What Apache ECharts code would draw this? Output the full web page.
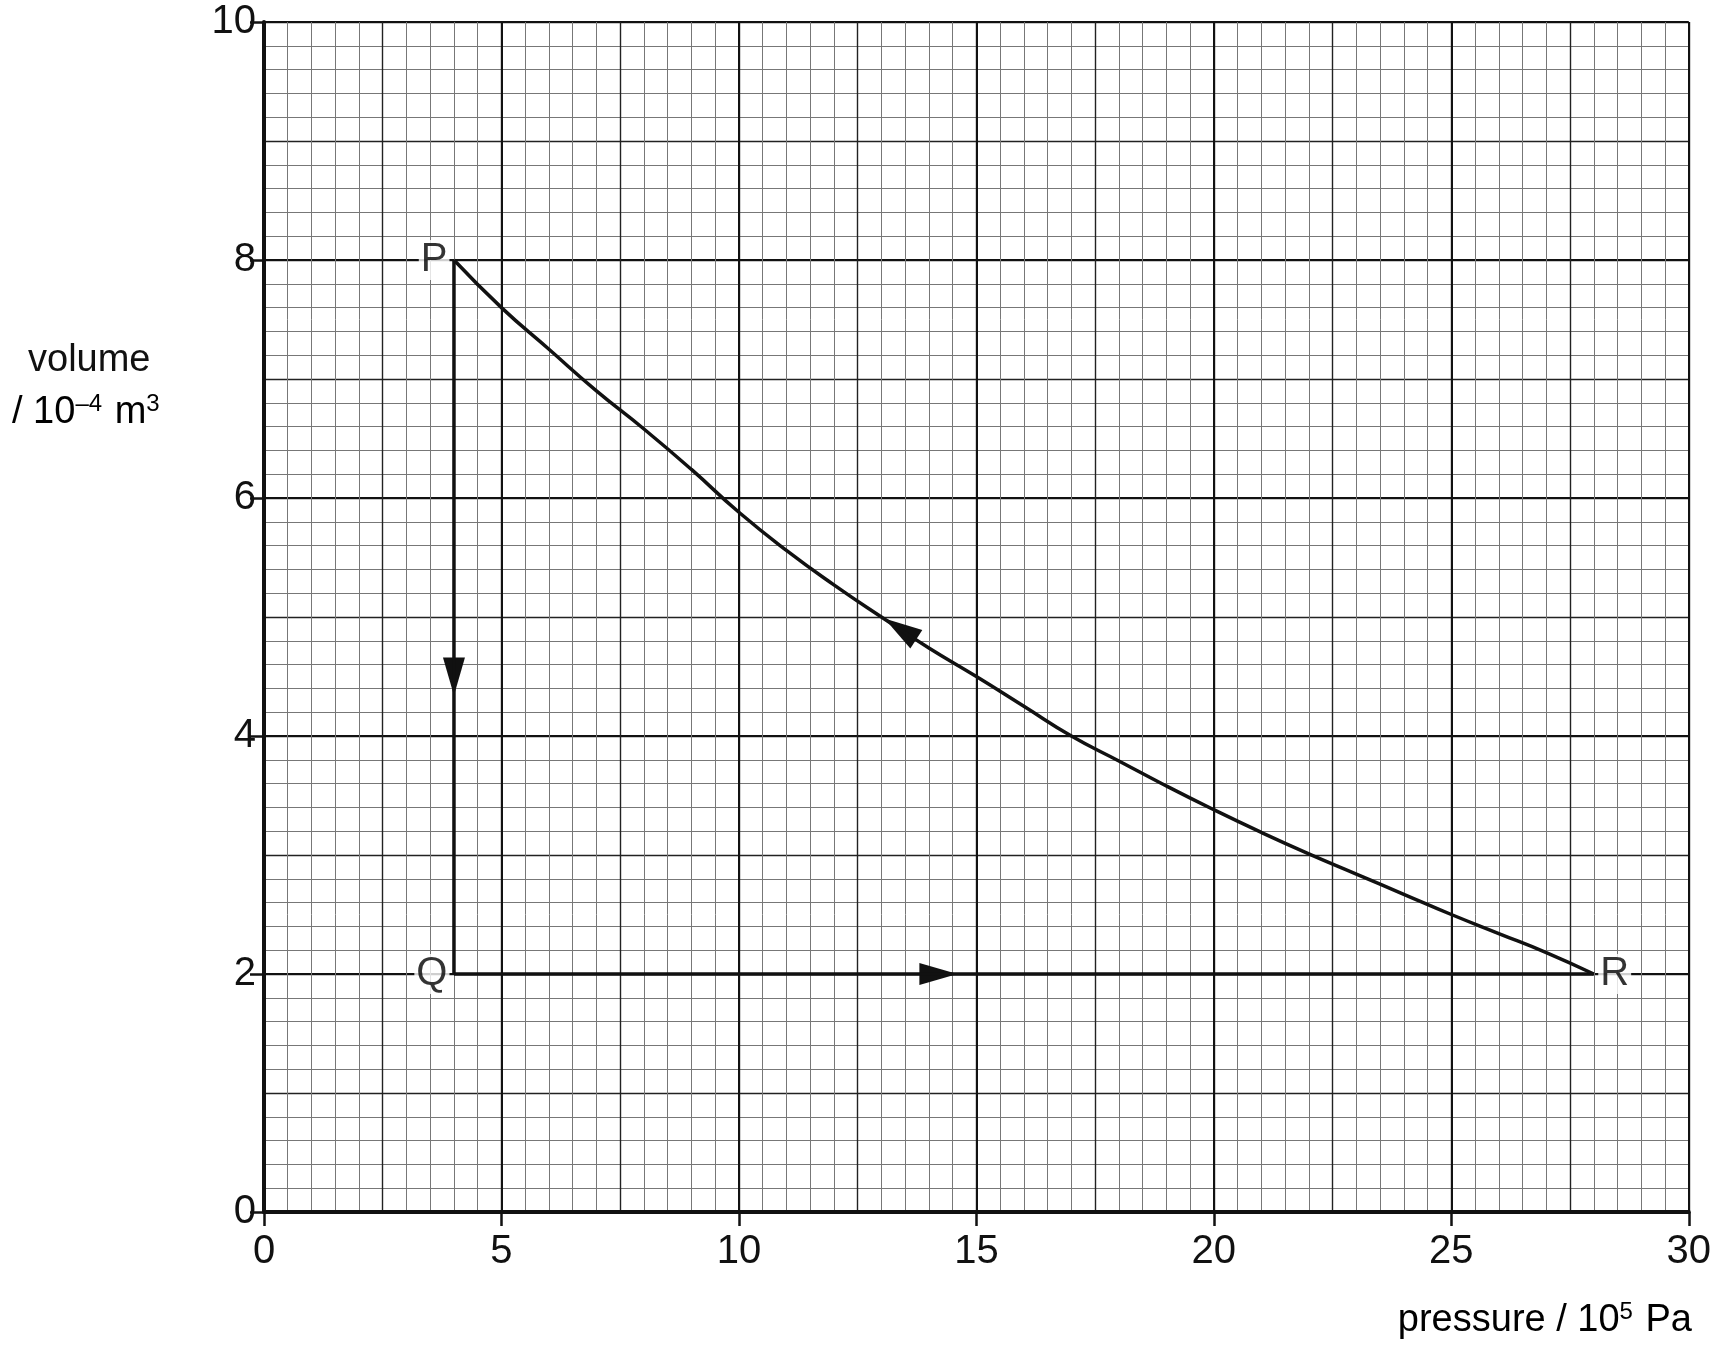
<!DOCTYPE html>
<html><head><meta charset="utf-8">
<script src="https://cdn.jsdelivr.net/npm/echarts@6/dist/echarts.min.js"></script>
<style>html,body{margin:0;background:#fff}#c{width:1714px;height:1350px}</style>
</head><body><div id="c"></div>
<script>
// cycle P -> Q -> R -> P
var pathPQ = [[4, 8], [4, 2]];
var pathQR = [[4, 2], [28, 2]];
var curveRP = [[4, 8], [5, 7.6], [6, 7.25], [7, 6.9], [8, 6.58], [9, 6.24], [10, 5.88], [11, 5.56], [12, 5.27], [13, 5.0],
  [14, 4.74], [15, 4.5], [16, 4.25], [17, 4.0], [18, 3.79], [19, 3.58], [20, 3.38], [21, 3.19], [22, 3.01], [23, 2.84],
  [24, 2.67], [25, 2.5], [26, 2.34], [27, 2.18], [28, 2.0]];
var arrows = [[4, 4.5, 180], [14.2, 2, -90], [13.4, 4.9, 57]];
var labels = [['P', 4, 8, 'left'], ['Q', 4, 2, 'left'], ['R', 28, 2, 'right']];

var F = 'Liberation Sans, Arial, sans-serif';
var chart = echarts.init(document.getElementById('c'));

function gx(interval, color, width, main) {
  return {
    type: 'value', position: 'bottom', min: 0, max: 30, interval: interval,
    axisLine: {show: !!main, onZero: false, lineStyle: {color: '#111', width: 4}},
    axisTick: {show: !!main, length: 14, lineStyle: {color: '#111', width: 2.5}},
    axisLabel: {show: !!main, color: '#111', fontSize: 40, fontFamily: F, margin: 20},
    splitLine: {show: true, lineStyle: {color: color, width: width}}
  };
}
function gy(interval, color, width, main) {
  return {
    type: 'value', position: 'left', min: 0, max: 10, interval: interval,
    axisLine: {show: !!main, onZero: false, lineStyle: {color: '#111', width: 4}},
    axisTick: {show: !!main, length: 14, lineStyle: {color: '#111', width: 2.5}},
    axisLabel: {show: !!main, color: '#111', fontSize: 40, fontFamily: F, margin: 8},
    splitLine: {show: true, lineStyle: {color: color, width: width}}
  };
}

var rich = {
  t: {fontSize: 38, fontFamily: F, color: '#111'},
  s: {fontSize: 24, fontFamily: F, color: '#111', verticalAlign: 'top', padding: [0, 2, 18, 0]}
};
var lineStyle = {color: '#111', width: 3.5};
chart.setOption({
  animation: false,
  grid: {left: 264, right: 8, top: 22, bottom: 138},
  xAxis: [gx(0.5, '#777', 1), gx(2.5, '#222', 1.4), gx(5, '#111', 2, true)],
  yAxis: [gy(0.2, '#777', 1), gy(1, '#222', 1.4), gy(2, '#111', 2, true)],
  graphic: [
    {type: 'text', left: 28, top: 342, style: {text: 'volume', font: '38px ' + F, fill: '#111'}},
    {type: 'text', left: 12, top: 392, style: {text: '{t|/ 10}{s|–4}{t| m}{s|3}', rich: rich}},
    {type: 'text', right: 22, top: 1300, style: {text: '{t|pressure / 10}{s|5}{t| Pa}', rich: rich}}
  ],
  series: [
    {type: 'line', xAxisIndex: 2, yAxisIndex: 2, data: pathPQ, symbol: 'none', lineStyle: lineStyle},
    {type: 'line', xAxisIndex: 2, yAxisIndex: 2, data: pathQR, symbol: 'none', lineStyle: lineStyle},
    {type: 'line', xAxisIndex: 2, yAxisIndex: 2, data: curveRP, symbol: 'none', smooth: true, lineStyle: lineStyle},
    {type: 'scatter', xAxisIndex: 2, yAxisIndex: 2, symbol: 'triangle', symbolSize: [22, 38],
     data: arrows.map(function (a) { return {value: [a[0], a[1]], symbolRotate: a[2]}; }),
     itemStyle: {color: '#111', opacity: 1}},
    {type: 'scatter', xAxisIndex: 2, yAxisIndex: 2, symbolSize: 1, itemStyle: {color: 'rgba(0,0,0,0)'},
     data: labels.map(function (l) {
       return {value: [l[1], l[2]], label: {show: true, formatter: l[0], position: l[3],
         distance: 4, color: '#000', fontSize: 40, fontFamily: F, backgroundColor: '#fff', padding: [0, 2]}};
     })}
  ]
});
</script></body></html>
